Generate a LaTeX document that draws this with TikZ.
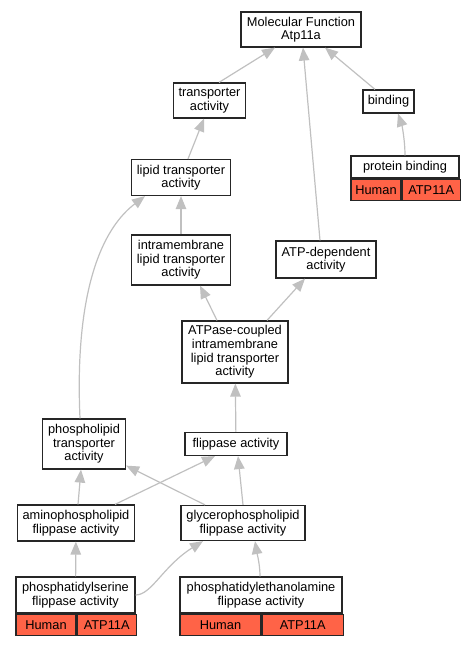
\documentclass[tikz,border=0pt]{standalone}
\usepackage{fontspec}
\setmainfont{Liberation Sans}
\usepackage{xcolor}
\usetikzlibrary{arrows.meta, positioning, calc}

\definecolor{humanred}{HTML}{FF6347}
\definecolor{edgegray}{HTML}{C0C0C0}

\begin{document}
\begin{tikzpicture}[x=1pt, y=-1pt]
\tikzstyle{term} = [rectangle, draw=black!85, line width=1.2pt, fill=white, align=center, inner sep=0pt, font=\fontsize{12.8pt}{13.6pt}\selectfont]
\tikzstyle{cell} = [term, fill=humanred, minimum height=21.5pt, anchor=north west]
\tikzstyle{arrow} = [draw=edgegray, line width=1.2pt, -{Triangle[length=13pt,width=10.5pt]}]

\useasboundingbox (0,0) rectangle (473,645);

% Top
\node[term, minimum width=120pt, minimum height=35pt] (mf) at (301,29.5) {Molecular Function\\Atp11a};
\node[term, minimum width=72pt, minimum height=35pt] (tr) at (209.5,100.5) {transporter\\activity};
\node[term, minimum width=51pt, minimum height=23pt] (bind) at (388.5,101.5) {binding};

% protein binding with annotation
\node[term, minimum width=108pt, minimum height=22pt] (pb) at (405,167) {protein binding};
\node[cell, minimum width=50pt] (pbh) at (pb.south west) {Human};
\node[cell, minimum width=58pt] (pbg) at (pbh.north east) {ATP11A};

% Middle
\node[term, minimum width=99pt, minimum height=36pt] (lipid) at (181,177.5) {lipid transporter\\activity};
\node[term, minimum width=99pt, minimum height=50pt] (intra) at (181,260) {intramembrane\\lipid transporter\\activity};
\node[term, minimum width=100pt, minimum height=37pt] (atpdep) at (326,259.5) {ATP-dependent\\activity};
\node[term, minimum width=106pt, minimum height=62pt] (atpase) at (235,352) {ATPase-coupled\\intramembrane\\lipid transporter\\activity};
\node[term, minimum width=102pt, minimum height=23pt] (flip) at (236,444) {flippase activity};
\node[term, minimum width=83pt, minimum height=50pt] (pt) at (84,444) {phospholipid\\transporter\\activity};

% Lower
\node[term, minimum width=117pt, minimum height=36pt] (amino) at (76,523) {aminophospholipid\\flippase activity};
\node[term, minimum width=124pt, minimum height=35pt] (glyc) at (243,523) {glycerophospholipid\\flippase activity};

% Annotated leaves
\node[term, minimum width=119pt, minimum height=36pt] (ps) at (75.5,595) {phosphatidylserine\\flippase activity};
\node[cell, minimum width=60pt] (psh) at (ps.south west) {Human};
\node[cell, minimum width=59pt] (psg) at (psh.north east) {ATP11A};

\node[term, minimum width=162pt, minimum height=36pt] (pe) at (261,595) {phosphatidylethanolamine\\flippase activity};
\node[cell, minimum width=81pt] (peh) at (pe.south west) {Human};
\node[cell, minimum width=81pt] (peg) at (peh.north east) {ATP11A};

% Connections
\draw[arrow] ([xshift=9.5pt]tr.north) -- ([xshift=-26pt]mf.south);
\draw[arrow] ([xshift=-13.5pt]bind.north) -- ([xshift=24pt]mf.south);
\draw[arrow] ([xshift=-6pt]atpdep.north) -- ([xshift=2pt]mf.south);
\draw[arrow] (pb.north) .. controls +(0,-15) and +(4,12) .. ([xshift=9.5pt]bind.south);
\draw[arrow] ([xshift=7pt]lipid.north) -- ([xshift=-5.5pt]tr.south);
\draw[arrow] (intra) -- (lipid);
\draw[arrow] ([xshift=-4pt]pt.north) .. controls +(-5,-110) and +(-50,38) .. ([xshift=-36pt]lipid.south);
\draw[arrow] ([xshift=-18pt]atpase.north) -- ([xshift=19pt]intra.south);
\draw[arrow] ([xshift=32pt]atpase.north) -- ([xshift=-21pt]atpdep.south);
\draw[arrow] (flip) -- (atpase);
\draw[arrow] ([xshift=2pt]amino.north) -- ([xshift=-3pt]pt.south);
\draw[arrow] ([xshift=39pt]amino.north) -- ([xshift=-21pt]flip.south);
\draw[arrow] ([xshift=-38pt]glyc.north) -- ([yshift=4pt]pt.south east);
\draw[arrow] (glyc.north) -- ([xshift=2pt]flip.south);
\draw[arrow] (ps) -- (amino);
\draw[arrow] (ps.east) .. controls +(16,0) and +(-40,25) .. ([xshift=-40pt]glyc.south);
\draw[arrow] ([xshift=-1pt]pe.north) .. controls +(0,-12) and +(2,12) .. ([xshift=12pt]glyc.south);
\end{tikzpicture}
\end{document}
